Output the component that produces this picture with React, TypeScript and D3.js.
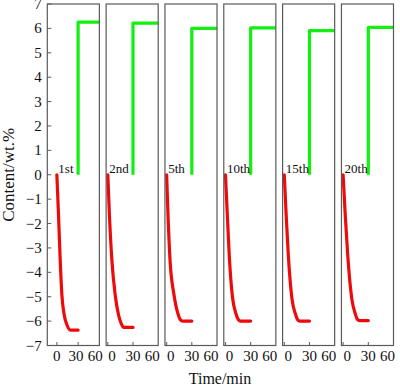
import React from "react";
import * as d3 from "d3";

const width = 400;
const height = 387;
const margin = { top: 4, right: 6.5, bottom: 41.5, left: 47.3 };

// cycle labels, one panel each
const cycles = ["1st", "2nd", "5th", "10th", "15th", "20th"];
// left end of each panel's time axis (min); right end is always 60
const timeStart = [-13.5, -2, -2, -2, -2, -2];
const timeEnd = 60;
const xTicks = [0, 30, 60];
const yTicks = [-7, -6, -5, -4, -3, -2, -1, 0, 1, 2, 3, 4, 5, 6, 7];

// red: desorption curves (time in min, content in wt.%)
const redTimes = [
  [0, 2.3, 4.7, 7.1, 10.4, 14.3, 19, 30],
  [0, 1.9, 4.8, 8.8, 12.8, 16, 19, 30],
  [0, 1.6, 4, 8.8, 13.5, 16.5, 19, 30],
  [0, 2.2, 4.5, 8.3, 12.5, 15.5, 18, 30],
  [0, 2.2, 4.8, 9.2, 13.2, 16, 18.5, 30],
  [0, 2.5, 5.5, 10.4, 14.5, 17, 19.5, 30],
];
const redValues = [
  [0, -1.63, -3.48, -4.93, -5.75, -6.16, -6.37, -6.37],
  [0, -1.63, -3.48, -4.93, -5.75, -6.1, -6.26, -6.26],
  [0, -1.63, -3.48, -4.93, -5.7, -5.95, -6.0, -6.0],
  [0, -1.63, -3.3, -5.0, -5.7, -5.95, -6.0, -6.0],
  [0, -1.63, -3.3, -5.1, -5.7, -5.95, -6.0, -6.0],
  [0, -1.63, -3.3, -5.1, -5.7, -5.93, -5.98, -5.98],
];

// green: absorption, jumps at 30 min and stays flat
const greenTimes = [30, 30, 60];
const greenTop = [6.26, 6.22, 6.0, 6.02, 5.91, 6.04];

const font = "'Liberation Serif', 'Times New Roman', Times, serif";

export default function App() {
  const band = d3
    .scaleBand<string>()
    .domain(cycles)
    .range([margin.left, width - margin.right])
    .paddingInner(0.115)
    .paddingOuter(0);

  const y = d3
    .scaleLinear()
    .domain([-7, 7])
    .range([height - margin.bottom, margin.top]);

  return (
    <svg
      width={width}
      height={height}
      style={{ position: "absolute", left: 0, top: 0, background: "#fff", fontFamily: font }}
    >
      {cycles.map((c, i) => {
        const x0 = band(c)!;
        const x = d3
          .scaleLinear()
          .domain([timeStart[i], timeEnd])
          .range([x0, x0 + band.bandwidth()]);

        const redLine = d3
          .line<number>()
          .x((t) => x(t))
          .y((_, k) => y(redValues[i][k]))
          .curve(d3.curveMonotoneX);

        const greenVals = [0, greenTop[i], greenTop[i]];
        const greenLine = d3
          .line<number>()
          .x((t) => x(t))
          .y((_, k) => y(greenVals[k]));

        const tickY = y.range()[0];
        const tight = x(0) - x0 > 4; // first panel has room left of 0
        return (
          <g key={c}>
            <path
              d={greenLine(greenTimes) || ""}
              fill="none"
              stroke="#12f012"
              strokeWidth={3.2}
              strokeLinejoin="round"
            />
            <path
              d={redLine(redTimes[i]) || ""}
              fill="none"
              stroke="#ee0a0a"
              strokeWidth={3.2}
              strokeLinecap="round"
              strokeLinejoin="round"
            />
            <rect
              x={x0}
              y={margin.top}
              width={band.bandwidth()}
              height={y.range()[0] - margin.top}
              fill="none"
              stroke="#5a5a5a"
              strokeWidth={1.2}
            />
            {xTicks.slice(0, 2).map((t) => (
              <line
                key={t}
                x1={x(t)}
                x2={x(t)}
                y1={tickY}
                y2={tickY - 3.5}
                stroke="#5a5a5a"
                strokeWidth={1}
              />
            ))}
            {xTicks.map((t) => {
              let anchor: "start" | "middle" | "end" = "middle";
              let px = x(t);
              if (t === timeEnd) {
                px = x(t) - (tight ? 4 : 6);
              } else if (t === 30 && tight) {
                px = x(t) - 2;
              } else if (x(t) - x0 < 4) {
                anchor = "start";
                px = x0 + 2;
              }
              return (
                <text
                  key={"l" + t}
                  x={px}
                  y={tickY + 15}
                  textAnchor={anchor}
                  fontSize={15}
                  fill="#111"
                >
                  {t}
                </text>
              );
            })}
            <text x={x(0) + 1.5} y={y(0) - 1.5} fontSize={13} fill="#111">
              {c}
            </text>
          </g>
        );
      })}

      {/* y axis on first panel */}
      {yTicks.map((v) => (
        <g key={v}>
          <line
            x1={margin.left}
            x2={margin.left + 4}
            y1={y(v)}
            y2={y(v)}
            stroke="#5a5a5a"
            strokeWidth={1}
          />
          <text
            x={margin.left - 5.5}
            y={y(v) + 5}
            textAnchor="end"
            fontSize={15}
            fill="#111"
          >
            {v < 0 ? "\u2212" + Math.abs(v) : v}
          </text>
        </g>
      ))}

      <text
        transform={`translate(13.5,${(y(7) + y(-7)) / 2}) rotate(-90)`}
        textAnchor="middle"
        fontSize={17}
        fill="#111"
      >
        Content/wt.%
      </text>
      <text x={220} y={384} textAnchor="middle" fontSize={16} fill="#111">
        Time/min
      </text>
    </svg>
  );
}
